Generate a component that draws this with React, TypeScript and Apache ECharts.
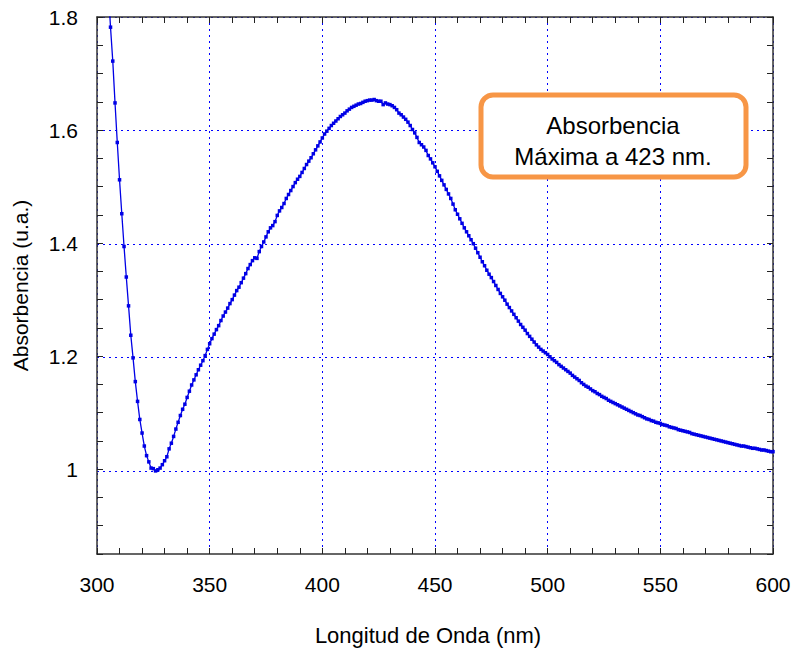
import React, { useEffect, useRef } from "react";
import * as echarts from "echarts";

// Spectrum sampled every 1 nm starting at 305 nm
const wavelengthStart = 305;
const wavelengthStep = 1;
const absorbance = [
  1.850, 1.782, 1.722, 1.648, 1.578, 1.512, 1.452, 1.394, 1.340, 1.289,
  1.237, 1.197, 1.155, 1.120, 1.088, 1.064, 1.041, 1.024, 1.013, 1.002,
  1.001, 0.997, 0.999, 1.002, 1.008, 1.015, 1.022, 1.036, 1.046, 1.058,
  1.071, 1.083, 1.095, 1.106, 1.115, 1.127, 1.138, 1.149, 1.158, 1.167,
  1.176, 1.184, 1.192, 1.201, 1.212, 1.222, 1.231, 1.239, 1.247, 1.254,
  1.263, 1.271, 1.278, 1.285, 1.293, 1.300, 1.308, 1.316, 1.322, 1.330,
  1.338, 1.346, 1.355, 1.362, 1.369, 1.374, 1.373, 1.385, 1.394, 1.402,
  1.411, 1.420, 1.427, 1.431, 1.438, 1.449, 1.457, 1.463, 1.470, 1.479,
  1.486, 1.493, 1.500, 1.507, 1.513, 1.518, 1.525, 1.532, 1.539, 1.545,
  1.551, 1.558, 1.565, 1.572, 1.579, 1.586, 1.593, 1.598, 1.603, 1.608,
  1.612, 1.616, 1.620, 1.624, 1.627, 1.630, 1.634, 1.637, 1.640, 1.642,
  1.644, 1.646, 1.647, 1.649, 1.651, 1.652, 1.653, 1.653, 1.654, 1.652,
  1.651, 1.651, 1.645, 1.648, 1.646, 1.645, 1.643, 1.640, 1.636, 1.630,
  1.627, 1.623, 1.619, 1.614, 1.608, 1.601, 1.595, 1.587, 1.578, 1.574,
  1.570, 1.564, 1.555, 1.549, 1.542, 1.535, 1.527, 1.519, 1.511, 1.503,
  1.495, 1.487, 1.479, 1.469, 1.459, 1.451, 1.443, 1.435, 1.427, 1.420,
  1.413, 1.406, 1.399, 1.391, 1.383, 1.375, 1.367, 1.360, 1.352, 1.345,
  1.339, 1.332, 1.325, 1.318, 1.311, 1.305, 1.299, 1.292, 1.286, 1.280,
  1.274, 1.268, 1.262, 1.256, 1.251, 1.246, 1.240, 1.235, 1.230, 1.225,
  1.220, 1.216, 1.212, 1.209, 1.206, 1.203, 1.199, 1.195, 1.192, 1.189,
  1.185, 1.182, 1.179, 1.176, 1.173, 1.170, 1.166, 1.163, 1.160, 1.157,
  1.153, 1.150, 1.147, 1.145, 1.142, 1.139, 1.137, 1.134, 1.132, 1.129,
  1.127, 1.125, 1.122, 1.120, 1.118, 1.116, 1.114, 1.112, 1.110, 1.108,
  1.106, 1.104, 1.102, 1.100, 1.098, 1.096, 1.095, 1.093, 1.091, 1.089,
  1.088, 1.086, 1.085, 1.083, 1.082, 1.081, 1.079, 1.078, 1.077, 1.075,
  1.074, 1.073, 1.072, 1.070, 1.069, 1.068, 1.067, 1.066, 1.065, 1.063,
  1.062, 1.061, 1.060, 1.059, 1.058, 1.057, 1.056, 1.055, 1.054, 1.053,
  1.052, 1.051, 1.050, 1.049, 1.048, 1.047, 1.046, 1.045, 1.044, 1.043,
  1.042, 1.041, 1.041, 1.040, 1.039, 1.038, 1.037, 1.037, 1.036, 1.035,
  1.034, 1.034, 1.033, 1.032, 1.031, 1.031,
];

const xMin = 300;
const xMax = 600;
const yMin = 0.85;
const yMax = 1.8;
const yGridMin = 1.0; // dotted horizontal grid from 1.0 upward every 0.2
const yLabelValues = [1.0, 1.2, 1.4, 1.6, 1.8];

const xAxisTitle = "Longitud de Onda (nm)";
const yAxisTitle = "Absorbencia (u.a.)";
const annotationText = "Absorbencia\nMáxima a 423 nm.";

const FONT = "'Liberation Sans', Arial, Helvetica, sans-serif";

export default function App() {
  const ref = useRef<HTMLDivElement>(null);

  useEffect(() => {
    if (!ref.current) return;
    const chart = echarts.init(ref.current, undefined, { renderer: "svg" });

    const seriesData = absorbance.map((v, i) => [wavelengthStart + i * wavelengthStep, v]);

    const gLeft = 97;
    const gRight = 21;
    const gTop = 17;
    const gBottom = 95;
    const plotH = 651 - gTop - gBottom;
    const gridHeight = (plotH * (yMax - yGridMin)) / (yMax - yMin);

    const axisLine = { show: true, lineStyle: { color: "#333", width: 1.5 } };
    const tick = { show: true, inside: true, length: 6, lineStyle: { color: "#222", width: 1 } };
    const gridStyle = { color: "#0000ff", width: 1, type: [2, 4] as number[] };

    const yLabelFormatter = (v: number) => {
      const r = Math.round(v * 100) / 100;
      for (const lv of yLabelValues) {
        if (Math.abs(r - lv) < 1e-6) return String(lv);
      }
      return "";
    };

    chart.setOption({
      animation: false,
      backgroundColor: "#ffffff",
      textStyle: { fontFamily: FONT },
      grid: [
        { left: gLeft, right: gRight, top: gTop, bottom: gBottom, containLabel: false },
        { left: gLeft, right: gRight, top: gTop, height: gridHeight, containLabel: false },
      ],
      xAxis: [
        {
          type: "value",
          gridIndex: 0,
          min: xMin,
          max: xMax,
          interval: 50,
          position: "bottom",
          axisLine,
          axisTick: tick,
          minorTick: { show: true, splitNumber: 5, length: 6, lineStyle: { color: "#222", width: 1 } },
          axisLabel: { show: true, margin: 20, fontSize: 21, color: "#000", fontFamily: FONT },
          splitLine: { show: true, lineStyle: gridStyle },
          name: xAxisTitle,
          nameLocation: "middle",
          nameGap: 70,
          nameTextStyle: { fontSize: 22, color: "#000", fontFamily: FONT, padding: [0, 14, 0, 0] },
          z: 1,
        },
        {
          type: "value",
          gridIndex: 0,
          min: xMin,
          max: xMax,
          interval: 50,
          position: "top",
          axisLine,
          axisTick: tick,
          minorTick: { show: true, splitNumber: 5, length: 6, lineStyle: { color: "#222", width: 1 } },
          axisLabel: { show: false },
          splitLine: { show: false },
          z: 1,
        },
        {
          type: "value",
          gridIndex: 1,
          min: xMin,
          max: xMax,
          interval: 50,
          axisLine: { show: false },
          axisTick: { show: false },
          axisLabel: { show: false },
          splitLine: { show: false },
        },
      ],
      yAxis: [
        {
          type: "value",
          gridIndex: 0,
          min: yMin,
          max: yMax,
          interval: 0.05,
          position: "left",
          axisLine,
          axisTick: tick,
          axisLabel: { show: true, margin: 19, fontSize: 21, color: "#000", fontFamily: FONT, formatter: yLabelFormatter },
          splitLine: { show: false },
          name: yAxisTitle,
          nameLocation: "middle",
          nameGap: 66,
          nameTextStyle: { fontSize: 21, color: "#000", fontFamily: FONT },
          z: 1,
        },
        {
          type: "value",
          gridIndex: 0,
          min: yMin,
          max: yMax,
          interval: 0.05,
          position: "right",
          axisLine,
          axisTick: tick,
          axisLabel: { show: false },
          splitLine: { show: false },
          z: 1,
        },
        {
          type: "value",
          gridIndex: 1,
          min: yGridMin,
          max: yMax,
          interval: 0.2,
          axisLine: { show: false },
          axisTick: { show: false },
          axisLabel: { show: false },
          splitLine: { show: true, lineStyle: gridStyle },
          z: 0,
        },
      ],
      series: [
        {
          type: "line",
          xAxisIndex: 0,
          yAxisIndex: 0,
          z: 3,
          data: seriesData,
          clip: true,
          symbol: "rect",
          symbolSize: 3.5,
          showSymbol: true,
          lineStyle: { color: "#0000e6", width: 1.3 },
          itemStyle: { color: "#0000e6" },
        },
      ],
      graphic: [
        {
          type: "rect",
          shape: { x: 481, y: 95, width: 265, height: 82, r: 12 },
          style: { fill: "#ffffff", stroke: "#F79646", lineWidth: 5 },
          z: 10,
        },
        {
          type: "text",
          x: 613,
          y: 141,
          style: {
            text: annotationText,
            font: `24px ${FONT}`,
            fill: "#000",
            textAlign: "center",
            textVerticalAlign: "middle",
            lineHeight: 31,
          },
          z: 11,
        },
      ],
    });

    return () => chart.dispose();
  }, []);

  return (
    <div
      ref={ref}
      style={{ position: "fixed", left: 0, top: 0, width: 794, height: 651, background: "#fff" }}
    />
  );
}
